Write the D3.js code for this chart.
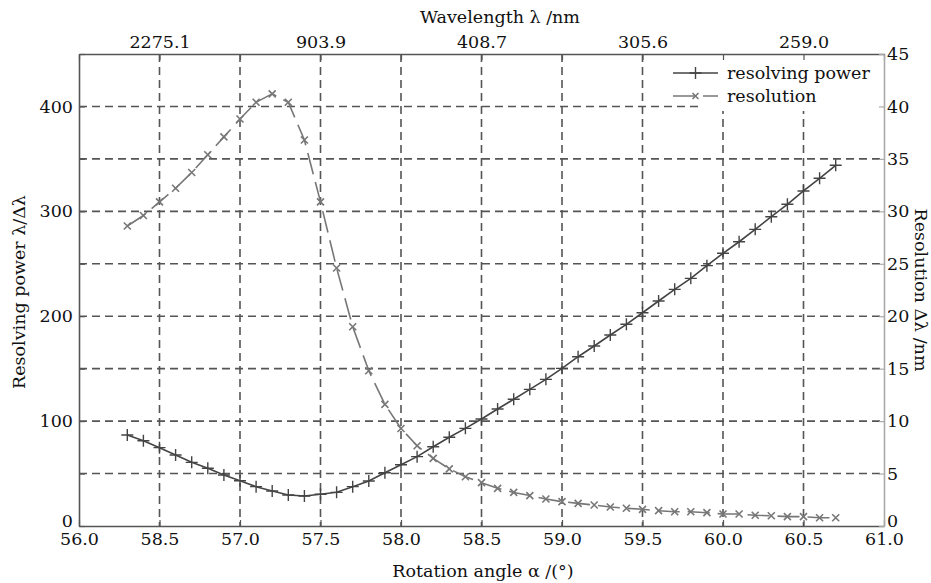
<!DOCTYPE html>
<html><head><meta charset="utf-8">
<script src="https://cdn.jsdelivr.net/npm/d3@7"></script>
<style>body{margin:0;background:#fff}svg{display:block}</style>
</head><body><svg id="c" width="931" height="583"></svg>
<script>
const angles = [56.3,56.4,56.5,56.6,56.7,56.8,56.9,57.0,57.1,57.2,57.3,57.4,57.5,57.6,57.7,57.8,57.9,58.0,58.1,58.2,58.3,58.4,58.5,58.6,58.7,58.8,58.9,59.0,59.1,59.2,59.3,59.4,59.5,59.6,59.7,59.8,59.9,60.0,60.1,60.2,60.3,60.4,60.5,60.6,60.7];
const resolvingPower = [86.7,81.3,74.7,67.7,60.7,55,48.6,43.2,37.5,33.4,29.6,28.6,30.2,32.1,37.5,42.9,50.8,58.4,66.1,75.6,84.6,93.1,102,111.5,120.8,130.3,139.8,150.3,161.4,171.6,182.1,192.3,203.3,214.5,225.6,236.1,248.2,260,271,282.8,294.9,306.7,319.4,331.5,343.9];
const resolution = [28.6,29.6,30.9,32.2,33.7,35.4,37.1,38.8,40.4,41.2,40.4,36.8,30.9,24.6,19.0,14.8,11.6,9.3,7.65,6.45,5.45,4.7,4.13,3.59,3.2,2.9,2.57,2.32,2.16,2.0,1.81,1.69,1.59,1.46,1.36,1.36,1.27,1.14,1.14,1.02,0.98,0.89,0.89,0.79,0.79];
const xTicks = [56.0,56.5,57.0,57.5,58.0,58.5,59.0,59.5,60.0,60.5,61.0];
const xTickLabels = ["56.0","58.5","57.0","57.5","58.0","58.5","59.0","59.5","60.0","60.5","61.0"];
const topTicks = [56.5,57.5,58.5,59.5,60.5];
const topTickLabels = ["2275.1","903.9","408.7","305.6","259.0"];
const leftTicks = [0,100,200,300,400];
const rightTicks = [0,5,10,15,20,25,30,35,40,45];

const FONT = "DejaVu Serif";
const FS = 17.5;
const svg = d3.select("#c");
const L=79, R=884, T=54, B=526;
const x = d3.scaleLinear().domain([56,61]).range([L,R]);
const yL = d3.scaleLinear().domain([0,450]).range([B,T]);
const yR = d3.scaleLinear().domain([0,45]).range([B,T]);

// grid
const g = svg.append("g");
const hGrid = d3.range(50,450,50);
g.selectAll(".hg").data(hGrid).join("line")
  .attr("x1",L).attr("x2",R).attr("y1",d=>yL(d)).attr("y2",d=>yL(d))
  .attr("stroke","#555").attr("stroke-width",1.6).attr("stroke-dasharray","8,5");
const vGrid = xTicks.slice(1,-1);
g.selectAll(".vg").data(vGrid).join("line")
  .attr("y1",T).attr("y2",B).attr("x1",d=>x(d)).attr("x2",d=>x(d))
  .attr("stroke","#555").attr("stroke-width",1.6).attr("stroke-dasharray","8,5");

// legend background
svg.append("rect").attr("x",700).attr("y",T+1).attr("width",R-701).attr("height",56).attr("fill","#fff");

// axes
const axB = svg.append("g").attr("transform",`translate(0,${B})`)
  .call(d3.axisBottom(x).tickValues(xTicks).tickSizeInner(-6).tickSizeOuter(0).tickPadding(7).tickFormat((d,i)=>xTickLabels[i]));
const axT = svg.append("g").attr("transform",`translate(0,${T})`)
  .call(d3.axisTop(x).tickValues(xTicks).tickSizeInner(-6).tickSizeOuter(0).tickFormat(""));
const axTL = svg.append("g").attr("transform",`translate(0,${T})`)
  .call(d3.axisTop(x).tickValues(topTicks).tickSize(0).tickPadding(6).tickFormat((d,i)=>topTickLabels[i]));
axTL.select(".domain").remove();
const axL = svg.append("g").attr("transform",`translate(${L},0)`)
  .call(d3.axisLeft(yL).tickValues(d3.range(0,451,50)).tickSizeInner(-6).tickSizeOuter(0).tickPadding(6)
  .tickFormat(d=>leftTicks.includes(d)?d:""));
const axR = svg.append("g").attr("transform",`translate(${R},0)`)
  .call(d3.axisRight(yR).tickValues(rightTicks).tickSizeInner(-5).tickSizeOuter(0).tickPadding(3));
[axB,axT,axL].forEach(a=>{a.select(".domain").attr("stroke","#555").attr("stroke-width",1.6);a.selectAll(".tick line").attr("stroke","#555").attr("stroke-width",1.2);});
axR.select(".domain").attr("stroke","#aaa").attr("stroke-width",1.6);
axR.selectAll(".tick line").attr("stroke","#aaa").attr("stroke-width",1.2);
[axB,axT,axTL,axL,axR].forEach(a=>a.attr("font-family",FONT).attr("font-size",FS));
svg.selectAll(".tick text").attr("font-family",FONT).attr("font-size",FS).attr("fill","#111");
axL.selectAll(".tick text").attr("dy",d=>d===0?"0em":"0.32em");
axR.selectAll(".tick text").attr("dy",d=>d===0?"0em":"0.32em");

// lines
const data = angles.map((a,i)=>({a, p:resolvingPower[i], r:resolution[i]}));
const lineP = d3.line().x(d=>x(d.a)).y(d=>yL(d.p));
const lineR = d3.line().x(d=>x(d.a)).y(d=>yR(d.r));
svg.append("path").datum(data).attr("d",lineR).attr("fill","none").attr("stroke","#777").attr("stroke-width",1.6).attr("stroke-dasharray","22,8");
svg.append("path").datum(data).attr("d",lineP).attr("fill","none").attr("stroke","#444").attr("stroke-width",1.6);

const plus = (s)=>`M${-s},0H${s}M0,${-s}V${s}`;
const cross = (s)=>`M${-s},${-s}L${s},${s}M${-s},${s}L${s},${-s}`;
svg.selectAll(".mp").data(data).join("path")
  .attr("transform",d=>`translate(${x(d.a)},${yL(d.p)})`).attr("d",plus(6))
  .attr("stroke","#444").attr("stroke-width",1.4).attr("fill","none");
svg.selectAll(".mr").data(data).join("path")
  .attr("transform",d=>`translate(${x(d.a)},${yR(d.r)})`).attr("d",cross(3.5))
  .attr("stroke","#777").attr("stroke-width",1.6).attr("fill","none");

// legend
const lg = svg.append("g");
lg.append("line").attr("x1",673).attr("x2",718).attr("y1",73).attr("y2",73).attr("stroke","#444").attr("stroke-width",1.6);
lg.append("path").attr("transform","translate(695.5,73)").attr("d",plus(6)).attr("stroke","#444").attr("stroke-width",1.4);
lg.append("line").attr("x1",673).attr("x2",718).attr("y1",96).attr("y2",96).attr("stroke","#777").attr("stroke-width",1.6).attr("stroke-dasharray","22,8");
lg.append("path").attr("transform","translate(695.5,96)").attr("d",cross(3)).attr("stroke","#777").attr("stroke-width",1.6);
lg.append("text").attr("x",727).attr("y",79).attr("font-family",FONT).attr("font-size",FS).attr("fill","#111").text("resolving power");
lg.append("text").attr("x",727).attr("y",102).attr("font-family",FONT).attr("font-size",FS).attr("fill","#111").text("resolution");

// titles
const title = (tr, t) => svg.append("text").attr("transform",tr).attr("text-anchor","middle")
  .attr("font-family",FONT).attr("font-size",FS).attr("fill","#111").text(t);
title("translate(500,23)","Wavelength λ /nm");
title("translate(483,577)","Rotation angle α /(°)");
title("translate(25,292) rotate(-90)","Resolving power λ/Δλ");
title("translate(915,290) rotate(90)","Resolution Δλ /nm");
</script></body></html>
